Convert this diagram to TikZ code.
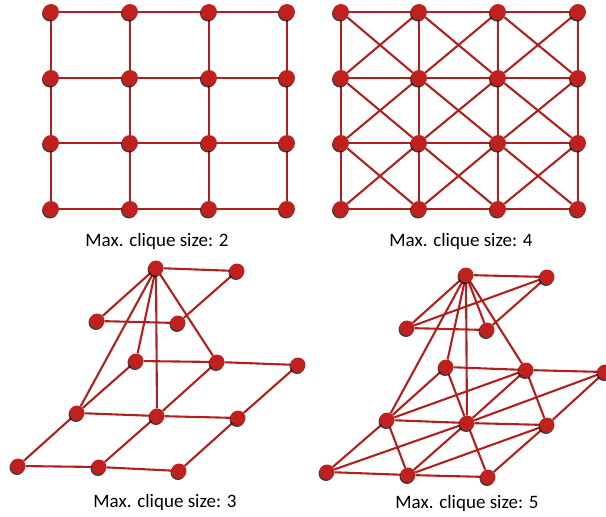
\documentclass[tikz,border=0pt]{standalone}
\usepackage{fontspec}
\setmainfont{Carlito}
\usepackage{tikz}
\usetikzlibrary{shadows, backgrounds}
\definecolor{nodered}{RGB}{192, 32, 30}
\definecolor{edgered}{RGB}{176, 32, 30}

\begin{document}
\begin{tikzpicture}[x=1pt, y=-1pt,
    vertex/.style={circle, fill=nodered, inner sep=0pt, minimum size=16pt,
                   drop shadow={shadow xshift=-1pt, shadow yshift=-1.5pt,
                                opacity=0.75, fill=black}},
    smallvertex/.style={vertex, minimum size=15pt},
    edge/.style={draw=edgered, line width=2.1pt},
    caption/.style={font=\fontsize{19}{22}\selectfont}
]
    \useasboundingbox (0,0) rectangle (606,517);

    % Top left - grid
    \foreach \i/\x in {1/51, 2/130, 3/209, 4/287}
      \foreach \j/\y in {1/12, 2/78, 3/143, 4/209}
        \node[vertex] (p\i\j) at (\x,\y) {};
    \node[caption] (cap2) at (157,241) {Max. clique size: 2};

    % Top right - grid with crossings
    \foreach \i/\x in {1/341, 2/419, 3/498, 4/578}
      \foreach \j/\y in {1/12, 2/78, 3/143, 4/209}
        \node[vertex] (q\i\j) at (\x,\y) {};
    \node[caption] (cap4) at (461,241) {Max. clique size: 4};

    % Bottom left
    \node[smallvertex] (la) at (156,268) {};
    \node[smallvertex] (lb) at (237,271) {};
    \node[smallvertex] (lc) at (97,321) {};
    \node[smallvertex] (ld) at (178,323) {};
    \node[smallvertex] (le) at (136,361) {};
    \node[smallvertex] (lf) at (217,362) {};
    \node[smallvertex] (lg) at (298,365) {};
    \node[smallvertex] (lh) at (77,413) {};
    \node[smallvertex] (li) at (157,416) {};
    \node[smallvertex] (lj) at (238,418) {};
    \node[smallvertex] (lk) at (18,466) {};
    \node[smallvertex] (ll) at (99,467) {};
    \node[smallvertex] (lm) at (179,471) {};
    \node[caption] (cap3) at (165,502) {Max. clique size: 3};

    % Bottom right
    \node[smallvertex] (ra) at (466,275) {};
    \node[smallvertex] (rb) at (547,277) {};
    \node[smallvertex] (rc) at (407,328) {};
    \node[smallvertex] (rd) at (487,330) {};
    \node[smallvertex] (re) at (446,367) {};
    \node[smallvertex] (rf) at (526,370) {};
    \node[smallvertex] (rg) at (605,372) {};
    \node[smallvertex] (rh) at (387,420) {};
    \node[smallvertex] (ri) at (467,423) {};
    \node[smallvertex] (rj) at (547,425) {};
    \node[smallvertex] (rk) at (327,472) {};
    \node[smallvertex] (rl) at (408,475) {};
    \node[smallvertex] (rm) at (488,477) {};
    \node[caption] (cap5) at (467,503) {Max. clique size: 5};

    % Edges
    \begin{scope}[on background layer]
      \foreach \i/\n in {1/2, 2/3, 3/4}
        \foreach \j in {1,...,4} {
          \draw[edge] (p\i\j) -- (p\n\j);
          \draw[edge] (p\j\i) -- (p\j\n);
          \draw[edge] (q\i\j) -- (q\n\j);
          \draw[edge] (q\j\i) -- (q\j\n);
        }
      \foreach \i/\n in {1/2, 2/3, 3/4}
        \foreach \j/\m in {1/2, 2/3, 3/4} {
          \draw[edge] (q\i\j) -- (q\n\m);
          \draw[edge] (q\n\j) -- (q\i\m);
        }

      \foreach \a/\b in {a/b, a/c, b/d, c/d, a/h, a/e, a/i, a/f, e/f, f/g,
                         h/i, i/j, k/l, l/m, e/h, f/i, g/j, h/k, i/l, j/m} {
        \draw[edge] (l\a) -- (l\b);
        \draw[edge] (r\a) -- (r\b);
      }
      \foreach \a/\b in {a/d, c/b, e/i, f/j, h/l, i/m, h/f, i/g, k/i, l/j}
        \draw[edge] (r\a) -- (r\b);
    \end{scope}
\end{tikzpicture}
\end{document}
